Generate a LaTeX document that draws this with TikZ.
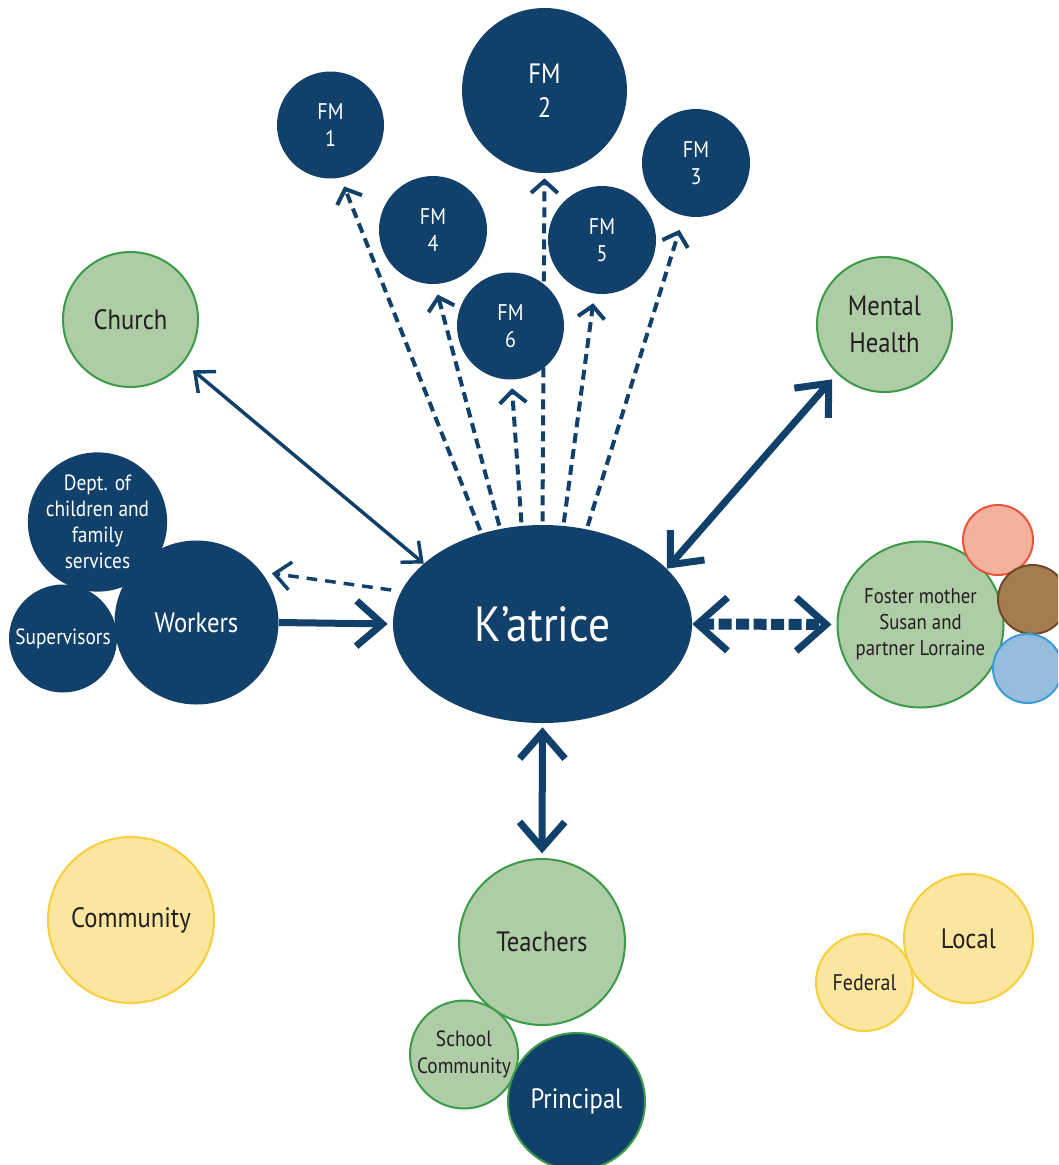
\documentclass[tikz,border=0pt]{standalone}
\usepackage{fontspec}
\setmainfont{PT Sans}[FakeStretch=0.88]
\usetikzlibrary{arrows.meta,shapes.geometric,backgrounds}
\definecolor{navy}{HTML}{11416B}
\definecolor{gfill}{HTML}{AECCA6}
\definecolor{gline}{HTML}{3C9B48}
\definecolor{yfill}{HTML}{FBE6A0}
\definecolor{yline}{HTML}{F8CE3A}
\definecolor{pfill}{HTML}{F4B29E}
\definecolor{pline}{HTML}{E8543C}
\definecolor{bfill}{HTML}{A57B50}
\definecolor{bline}{HTML}{6E4B28}
\definecolor{lfill}{HTML}{96BDDE}
\definecolor{lline}{HTML}{3A9BD7}
\definecolor{ink}{HTML}{231F20}
\tikzset{
  circ/.style={circle, inner sep=0pt, minimum size={#1*1.5pt}, align=center},
  ncirc/.style={circ=#1, fill=navy, text=white},
  gcirc/.style={circ=#1, fill=gfill, draw=gline, line width=1.5pt, text=ink},
  ycirc/.style={circ=#1, fill=yfill, draw=yline, line width=1.5pt, text=ink},
  bigtxt/.style={font=\fontsize{21}{27.5}\selectfont},
  smalltxt/.style={font=\fontsize{16.5}{20}\selectfont},
  fmtxt/.style={font=\fontsize{17}{20}\selectfont},
  ThinTip/.tip={Straight Barb[sharp,length=12pt,width=21pt]},
  BigTip/.tip={Straight Barb[sharp,length=19.5pt,width=34pt]},
  FmTip/.tip={Straight Barb[sharp,length=9pt,width=20pt]},
  FosterTip/.tip={Straight Barb[sharp,length=22.5pt,width=40pt,line width=5.25pt]},
  thinarr/.style={draw=navy, line width=2.6pt, arrows={ThinTip-ThinTip}},
  bigarr/.style={draw=navy, line width=5.25pt},
  fmarr/.style={draw=navy, line width=3pt, dash pattern=on 7.5pt off 4.5pt, arrows={-FmTip}, shorten <=2.5pt},
}
\begin{document}
\begin{tikzpicture}[x=0.75pt,y=-0.75pt]
\useasboundingbox (0,0) rectangle (1058,1165);
\clip (0,0) rectangle (1058,1165);

% central node
\node[ellipse, fill=navy, text=white, inner sep=0pt, minimum width=224.25pt, minimum height=148.5pt,
      font=\fontsize{37}{40}\selectfont] (kat) at (542.5,624) {K’atrice};

% family members
\node[ncirc=53.5, fmtxt] (fm1) at (330.5,125) {FM\\1};
\node[ncirc=82.5, font=\fontsize{21}{25.5}\selectfont] (fm2) at (544.5,90.5) {FM\\2};
\node[ncirc=54, fmtxt] (fm3) at (696,163) {FM\\3};
\node[ncirc=54, fmtxt] (fm4) at (433,230) {FM\\4};
\node[ncirc=54, fmtxt] (fm5) at (602,240) {FM\\5};
\node[ncirc=53.5, fmtxt] (fm6) at (510.5,326) {FM\\6};

% left side
\node[gcirc=67.5, bigtxt] (church) at (130.5,319.5) {Church};
\node[ncirc=65.5, font=\fontsize{16.5}{19.5}\selectfont] (dept) at (97.5,522) {Dept. of\\children and\\family\\services};
\node[ncirc=54, smalltxt] (sup) at (63,638.5) {Supervisors};
\node[ncirc=82, bigtxt] (workers) at (196.5,622.5) {Workers};

% right side
\node[gcirc=67.5, bigtxt] (mh) at (884.5,324.5) {Mental\\Health};
\node[gcirc=83, font=\fontsize{16}{19.5}\selectfont] (foster) at (920.5,624.5) {Foster mother\\Susan and\\partner Lorraine};
\node[circ=35, fill=pfill, draw=pline, line width=1.5pt] (pink) at (998,540) {};
\node[circ=34.5, fill=bfill, draw=bline, line width=1.5pt] (brown) at (1032.5,599.5) {};
\node[circ=34.5, fill=lfill, draw=lline, line width=1.5pt] (blue) at (1027.5,668.5) {};

% bottom
\node[gcirc=83, bigtxt] (teachers) at (542,942) {Teachers};
\node[gcirc=54, font=\fontsize{16.5}{20}\selectfont] (school) at (464,1054.5) {School\\Community};
\node[circ=68.5, fill=navy, draw=gline, line width=1.5pt, text=white, bigtxt] (principal) at (576.5,1101.5) {Principal};

\node[ycirc=83, bigtxt] (community) at (131,920) {Community};
\node[ycirc=64.5, bigtxt] (local) at (968.5,938.5) {Local};
\node[ycirc=48.5, font=\fontsize{17}{20}\selectfont] (federal) at (864.5,982.5) {Federal};

% connectors
\begin{pgfonlayer}{background}
\fill[white] (0,0) rectangle (1058,1165);
\draw[fmarr, shorten >=7pt] (kat.124.5) -- (fm1.-79.5);
\draw[fmarr, shorten >=8pt] (kat.114) -- (fm4.-88);
\draw[fmarr, shorten >=6.4pt] (kat.102) -- (fm6.-89);
\draw[fmarr, shorten >=3.75pt] (kat.90) -- (fm2.-90);
\draw[fmarr, shorten >=7.2pt] (kat.78) -- (fm5.-98);
\draw[fmarr, shorten >=11pt] (kat.65) -- (fm3.-103.4);

\draw[thinarr, shorten <=9pt] (church.-39) -- (kat.153);
\draw[bigarr, arrows={BigTip-BigTip}, shorten <=5.6pt] (mh.-134.5) -- (kat.24);
\draw[bigarr, arrows={-BigTip}, shorten >=3.75pt] (workers.east) -- (kat.west);
\draw[draw=navy, line width=2.6pt, dash pattern=on 8pt off 6pt, arrows={-BigTip[length=12pt,width=21pt]}, shorten <=7.5pt, shorten >=8pt] (kat.167) -- (workers.38);
\draw[draw=navy, line width=8.25pt, dash pattern=on 9.75pt off 3.4pt, arrows={FosterTip-FosterTip}, shorten >=3.75pt] (kat.east) -- (foster.west);
\draw[bigarr, arrows={BigTip-BigTip}, shorten <=3pt, shorten >=3.5pt] (kat.south) -- (teachers.north);
\end{pgfonlayer}
\end{tikzpicture}
\end{document}
